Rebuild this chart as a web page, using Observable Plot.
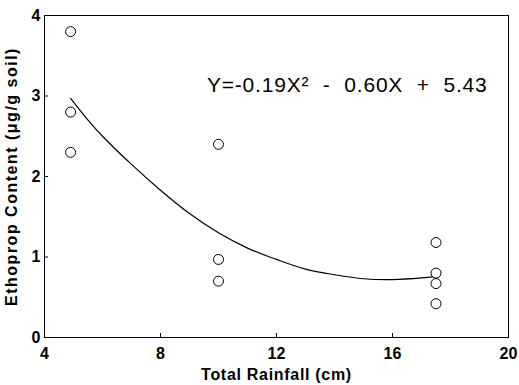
<!DOCTYPE html>
<html>
<head>
<meta charset="utf-8">
<script src="https://cdn.jsdelivr.net/npm/d3@7"></script>
<script src="https://cdn.jsdelivr.net/npm/@observablehq/plot@0.6"></script>
<style>
  html, body { margin: 0; padding: 0; background: white; }
  #chart svg { display: block; }
  #chart g[aria-label="text"] text { word-spacing: 7px; letter-spacing: 0.8px; }
  #chart g[aria-label="y-axis label"] text { letter-spacing: 1.5px; }
  #chart g[aria-label="x-axis label"] text { letter-spacing: 0.7px; }
</style>
</head>
<body>
<div id="chart"></div>
<script>
// Observed ethoprop content vs total rainfall
const rainfall = [4.9, 4.9, 4.9, 10, 10, 10, 17.5, 17.5, 17.5, 17.5];
const ethoprop = [3.8, 2.8, 2.3, 2.4, 0.97, 0.70, 1.18, 0.80, 0.67, 0.42];

// Fitted curve
const curveX = [4.9, 5.5, 6, 7, 8, 9, 10, 11, 12, 13, 14, 15, 16, 17, 17.5];
const curveY = [2.97, 2.70, 2.50, 2.15, 1.83, 1.54, 1.30, 1.11, 0.97, 0.85, 0.78, 0.73, 0.72, 0.74, 0.76];

// Tick values
const xTicks = [4, 8, 12, 16, 20];
const yTicks = [0, 1, 2, 3, 4];

// Equation annotation
const equationText = ["Y=-0.19X² - 0.60X + 5.43"];
const equationX = [9.6];
const equationY = [3.05];

const points = rainfall.map((x, i) => ({x, y: ethoprop[i]}));
const curve = curveX.map((x, i) => ({x, y: curveY[i]}));
const equation = equationText.map((t, i) => ({t, x: equationX[i], y: equationY[i]}));

const chart = Plot.plot({
  width: 519,
  height: 385,
  marginLeft: 44,
  marginRight: 11,
  marginTop: 15,
  marginBottom: 48,
  style: {fontFamily: "'Liberation Sans', Arial, sans-serif", fontSize: "16px", fontWeight: "bold", background: "white", color: "black"},
  x: {domain: [4, 20]},
  y: {domain: [0, 4]},
  marks: [
    Plot.frame({stroke: "black", strokeWidth: 1}),
    Plot.axisX({ticks: xTicks, tickSize: -4, tickPadding: 14, label: "Total Rainfall (cm)", labelAnchor: "center", labelArrow: "none", labelOffset: 42, tickFormat: d => String(d)}),
    Plot.axisY({ticks: yTicks, tickSize: -4, tickPadding: 8, label: "Ethoprop Content (μg/g soil)", labelAnchor: "center", labelArrow: "none", labelOffset: 39, tickFormat: d => String(d)}),
    Plot.line(curve, {x: "x", y: "y", curve: "catmull-rom", stroke: "black", strokeWidth: 1.2}),
    Plot.dot(points, {x: "x", y: "y", r: 5, stroke: "black", strokeWidth: 1, fill: "white"}),
    Plot.text(equation, {x: "x", y: "y", text: "t", textAnchor: "start", lineAnchor: "bottom", fontSize: 21, fontWeight: "normal"})
  ]
});
document.getElementById("chart").appendChild(chart);
</script>
</body>
</html>
